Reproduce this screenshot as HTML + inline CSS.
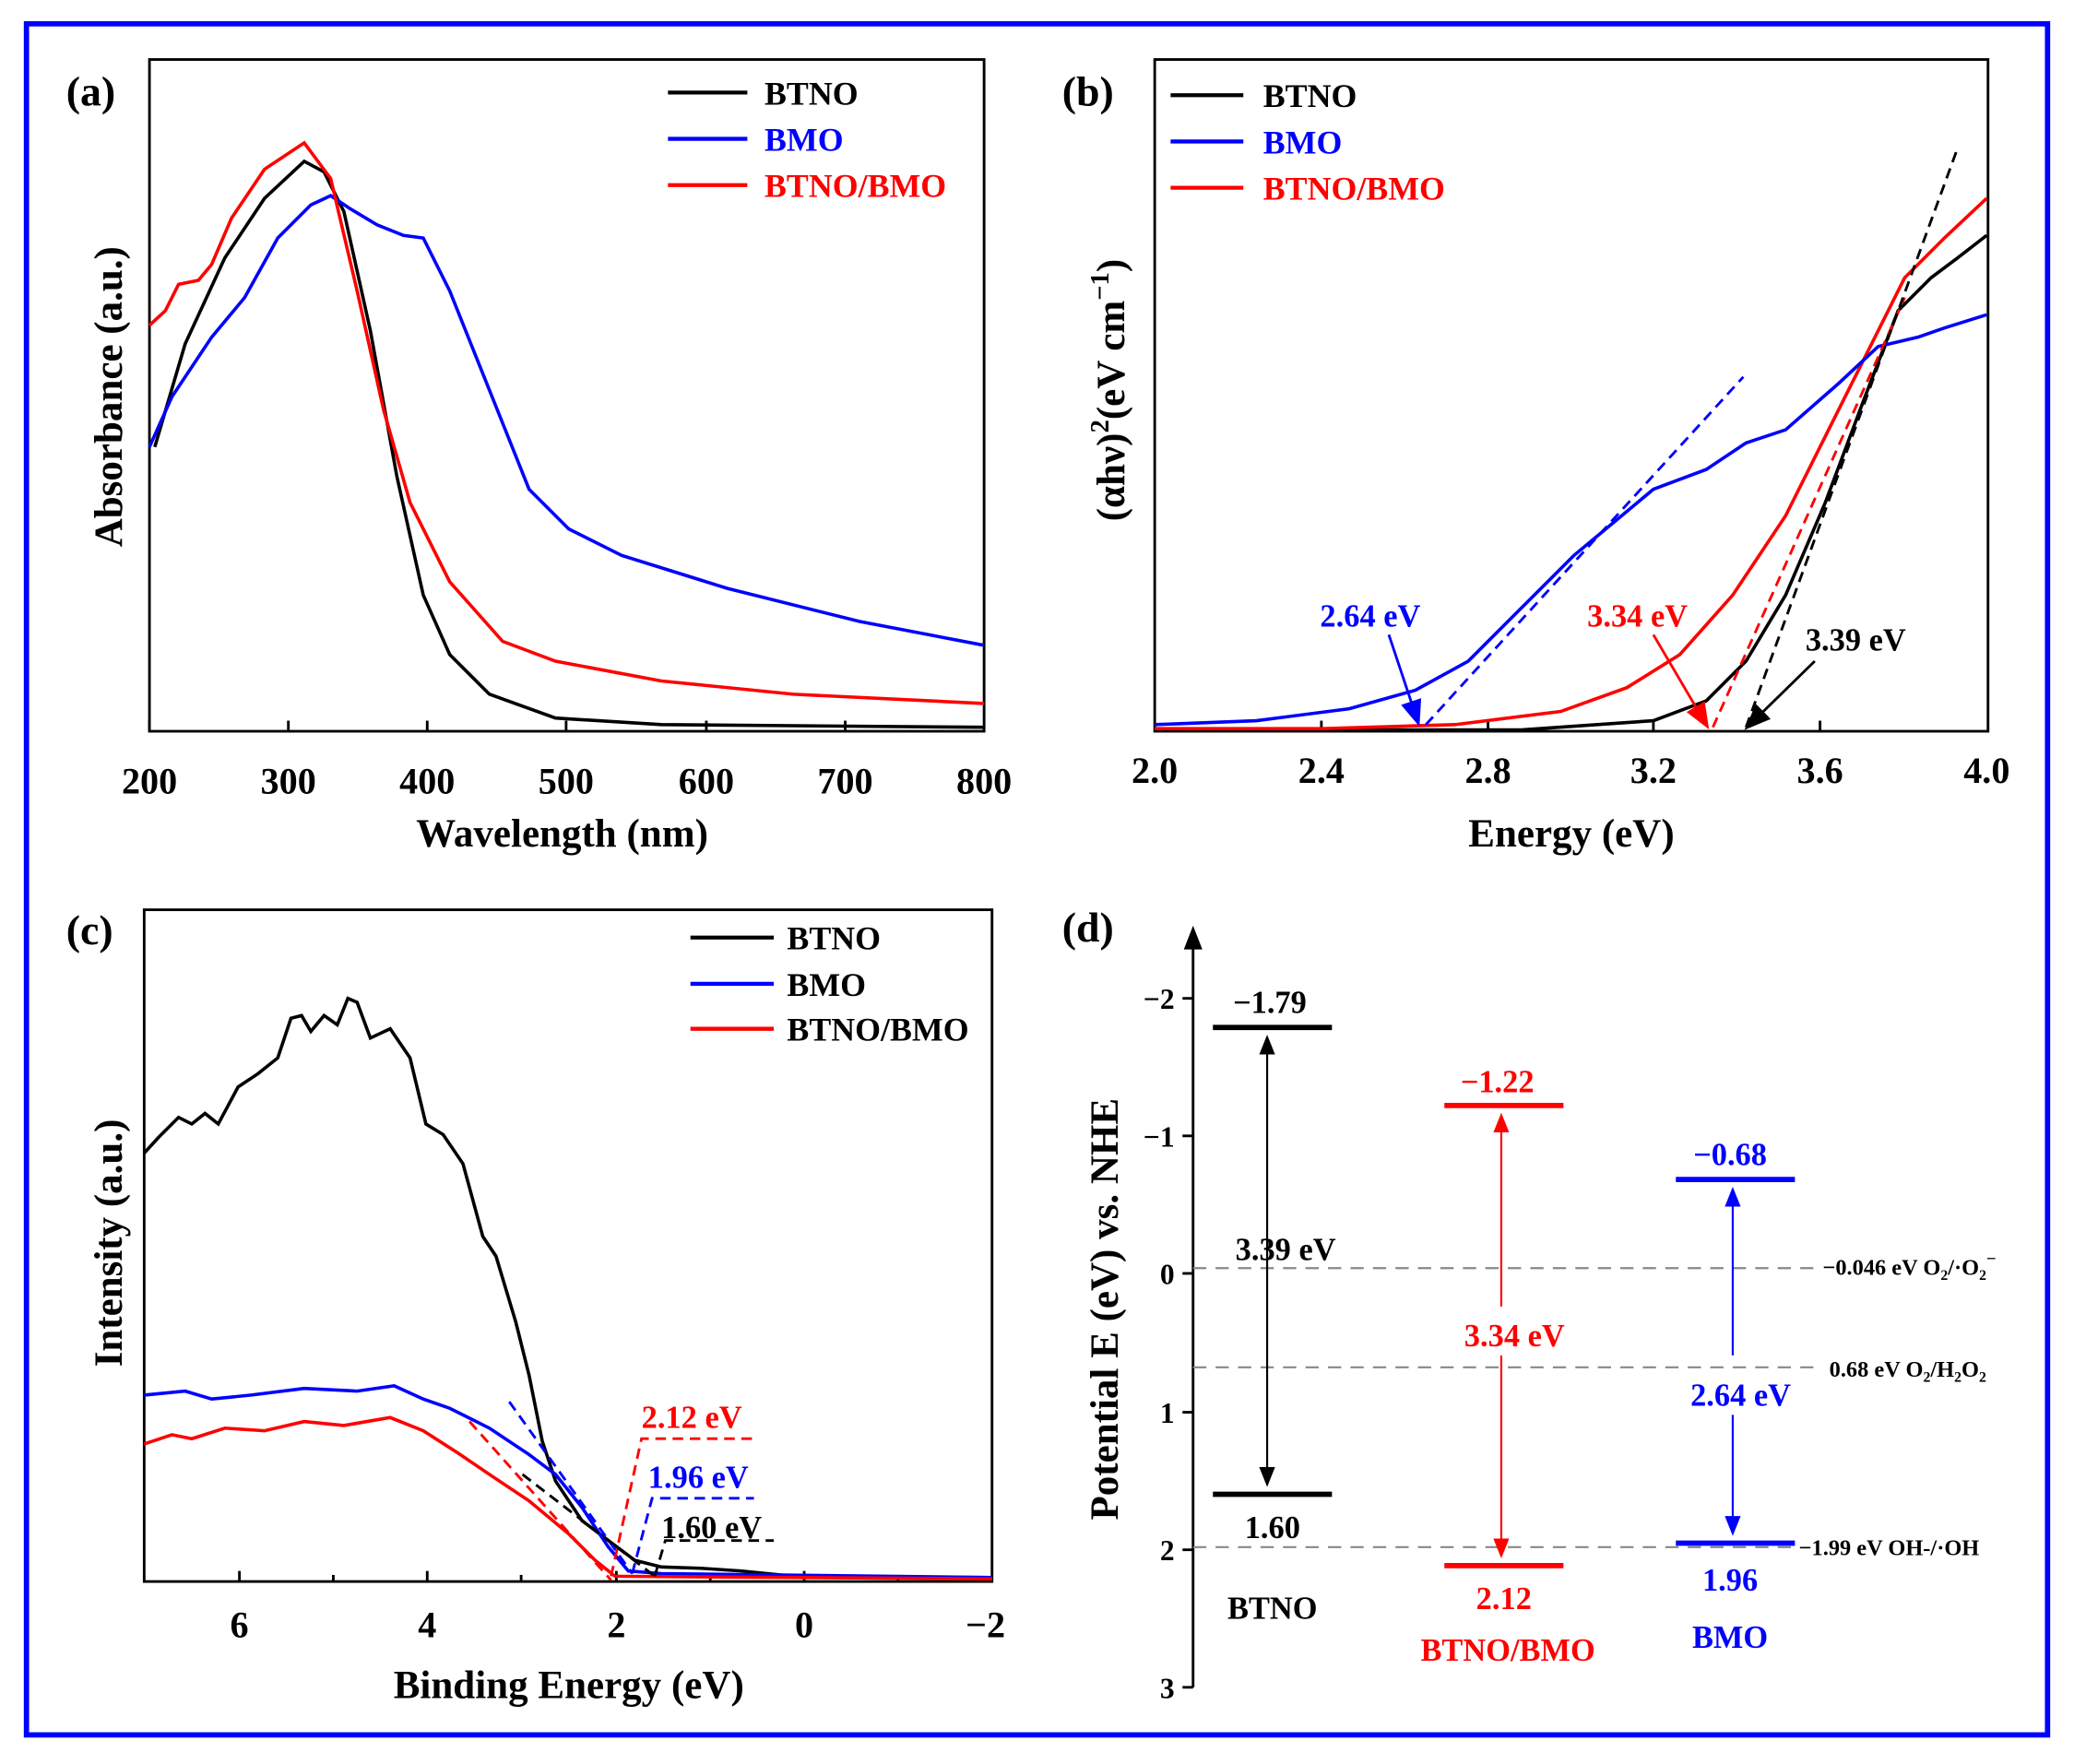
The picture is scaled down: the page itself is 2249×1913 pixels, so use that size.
<!DOCTYPE html>
<html><head><meta charset="utf-8"><style>
html,body{margin:0;padding:0;background:#fff}
svg{display:block}
text{font-family:"Liberation Serif",serif;font-weight:bold}
</style></head><body>
<svg width="2249" height="1913" viewBox="0 0 1568 1334" preserveAspectRatio="none" xmlns="http://www.w3.org/2000/svg">
<rect x="20" y="18" width="1528" height="1294" fill="none" stroke="#0000ff" stroke-width="4"/>
<defs>
<marker id="ak" markerWidth="10" markerHeight="10" refX="5" refY="5" orient="auto-start-reverse"><path d="M0,1 L10,5 L0,9 z" fill="#000"/></marker>
<marker id="ar" markerWidth="10" markerHeight="10" refX="5" refY="5" orient="auto-start-reverse"><path d="M0,1 L10,5 L0,9 z" fill="#f00"/></marker>
<marker id="ab" markerWidth="10" markerHeight="10" refX="5" refY="5" orient="auto-start-reverse"><path d="M0,1 L10,5 L0,9 z" fill="#00f"/></marker>
</defs>

<!-- Panel a -->
<rect x="113" y="45" width="631" height="508" fill="none" stroke="#000" stroke-width="2"/>
<g stroke="#000" stroke-width="2">
<line x1="113" y1="553" x2="113" y2="545"/><line x1="218" y1="553" x2="218" y2="545"/><line x1="323" y1="553" x2="323" y2="545"/><line x1="428" y1="553" x2="428" y2="545"/><line x1="534" y1="553" x2="534" y2="545"/><line x1="639" y1="553" x2="639" y2="545"/>
</g>
<g font-size="28" text-anchor="middle">
<text x="113" y="600">200</text><text x="218" y="600">300</text><text x="323" y="600">400</text><text x="428" y="600">500</text><text x="534" y="600">600</text><text x="639" y="600">700</text><text x="744" y="600">800</text>
</g>
<text x="425" y="640" font-size="30" text-anchor="middle">Wavelength (nm)</text>
<text transform="translate(92,300) rotate(-90)" font-size="30" text-anchor="middle">Absorbance (a.u.)</text>
<text x="50" y="80" font-size="32">(a)</text>
<polyline fill="none" stroke="#000" stroke-width="2.5" points="117,338 140,260 170,195 200,150 230,122 245,130 260,160 280,250 300,360 320,450 340,495 370,525 420,543 500,548 744,550"/>
<polyline fill="none" stroke="#00f" stroke-width="2.5" points="113,338 130,300 160,255 185,225 210,180 235,155 250,148 265,158 285,170 305,178 320,180 340,220 360,270 380,320 400,370 430,400 470,420 550,445 650,470 744,488"/>
<polyline fill="none" stroke="#f00" stroke-width="2.5" points="113,246 125,235 135,215 150,212 160,200 175,165 200,128 230,108 250,135 270,220 290,310 310,380 340,440 380,485 420,500 500,515 600,525 744,532"/>
<g stroke-width="3"><line x1="505" y1="70" x2="565" y2="70" stroke="#000"/><line x1="505" y1="105" x2="565" y2="105" stroke="#00f"/><line x1="505" y1="140" x2="565" y2="140" stroke="#f00"/></g>
<g font-size="25"><text x="578" y="79">BTNO</text><text x="578" y="114" fill="#00f">BMO</text><text x="578" y="149" fill="#f00">BTNO/BMO</text></g>

<!-- Panel b -->
<rect x="873" y="45" width="630" height="508" fill="none" stroke="#000" stroke-width="2"/>
<g stroke="#000" stroke-width="2">
<line x1="999" y1="553" x2="999" y2="545"/><line x1="1125" y1="553" x2="1125" y2="545"/><line x1="1250" y1="553" x2="1250" y2="545"/><line x1="1376" y1="553" x2="1376" y2="545"/>
</g>
<g font-size="28" text-anchor="middle">
<text x="873" y="592">2.0</text><text x="999" y="592">2.4</text><text x="1125" y="592">2.8</text><text x="1250" y="592">3.2</text><text x="1376" y="592">3.6</text><text x="1502" y="592">4.0</text>
</g>
<text x="1188" y="640" font-size="30" text-anchor="middle">Energy (eV)</text>
<text transform="translate(850,295) rotate(-90)" font-size="30" text-anchor="middle">(αhν)<tspan font-size="20" dy="-12">2</tspan><tspan dy="12">(eV cm</tspan><tspan font-size="20" dy="-12">−1</tspan><tspan dy="12">)</tspan></text>
<text x="803" y="80" font-size="32">(b)</text>
<polyline fill="none" stroke="#000" stroke-width="2.5" points="873,552 1150,552 1250,545 1290,530 1320,500 1350,450 1380,380 1410,300 1435,235 1460,210 1480,195 1502,178"/>
<polyline fill="none" stroke="#f00" stroke-width="2.5" points="873,551 1000,551 1100,548 1180,538 1230,520 1270,495 1310,450 1350,390 1380,330 1410,270 1440,210 1470,180 1502,150"/>
<polyline fill="none" stroke="#00f" stroke-width="2.5" points="873,548 950,545 1020,536 1070,522 1110,500 1150,460 1190,420 1220,395 1250,370 1290,355 1320,335 1350,325 1390,290 1420,262 1450,255 1470,248 1502,238"/>
<g stroke-width="2" stroke-dasharray="8,5" fill="none">
<line x1="1078" y1="548" x2="1318" y2="285" stroke="#00f"/>
<line x1="1295" y1="550" x2="1440" y2="225" stroke="#f00"/>
<line x1="1320" y1="550" x2="1480" y2="112" stroke="#000"/>
</g>
<line x1="1050" y1="480" x2="1070" y2="540" stroke="#00f" stroke-width="2" marker-end="url(#ab)"/>
<line x1="1250" y1="480" x2="1287" y2="543" stroke="#f00" stroke-width="2" marker-end="url(#ar)"/>
<line x1="1372" y1="500" x2="1326" y2="545" stroke="#000" stroke-width="2" marker-end="url(#ak)"/>
<g font-size="24"><text x="998" y="474" fill="#00f">2.64 eV</text><text x="1200" y="474" fill="#f00">3.34 eV</text><text x="1365" y="492">3.39 eV</text></g>
<g stroke-width="3"><line x1="885" y1="72" x2="940" y2="72" stroke="#000"/><line x1="885" y1="107" x2="940" y2="107" stroke="#00f"/><line x1="885" y1="142" x2="940" y2="142" stroke="#f00"/></g>
<g font-size="25"><text x="955" y="81">BTNO</text><text x="955" y="116" fill="#00f">BMO</text><text x="955" y="151" fill="#f00">BTNO/BMO</text></g>

<!-- Panel c -->
<rect x="109" y="688" width="641" height="508" fill="none" stroke="#000" stroke-width="2"/>
<g stroke="#000" stroke-width="2">
<line x1="181" y1="1196" x2="181" y2="1188"/><line x1="323" y1="1196" x2="323" y2="1188"/><line x1="466" y1="1196" x2="466" y2="1188"/><line x1="608" y1="1196" x2="608" y2="1188"/>
<line x1="252" y1="1196" x2="252" y2="1191"/><line x1="394" y1="1196" x2="394" y2="1191"/><line x1="537" y1="1196" x2="537" y2="1191"/><line x1="679" y1="1196" x2="679" y2="1191"/>
</g>
<g font-size="28" text-anchor="middle">
<text x="181" y="1238">6</text><text x="323" y="1238">4</text><text x="466" y="1238">2</text><text x="608" y="1238">0</text><text x="745" y="1238">−2</text>
</g>
<text x="430" y="1284" font-size="30" text-anchor="middle">Binding Energy (eV)</text>
<text transform="translate(92,940) rotate(-90)" font-size="30" text-anchor="middle">Intensity (a.u.)</text>
<text x="50" y="714" font-size="32">(c)</text>
<polyline fill="none" stroke="#000" stroke-width="2.5" points="109,872 120,860 135,845 145,850 155,842 165,850 180,822 195,812 210,800 220,770 228,768 235,780 245,768 255,775 263,755 270,758 280,785 295,778 310,800 322,850 335,858 350,880 365,935 375,950 390,1000 400,1040 410,1090 420,1120 440,1150 460,1165 480,1180 500,1185 530,1186 560,1188 600,1192 750,1193"/>
<polyline fill="none" stroke="#00f" stroke-width="2.5" points="109,1055 140,1052 160,1058 190,1055 230,1050 270,1052 298,1048 320,1058 340,1065 370,1080 400,1100 420,1115 440,1140 460,1170 475,1188 500,1190 750,1193"/>
<polyline fill="none" stroke="#f00" stroke-width="2.5" points="109,1092 130,1085 145,1088 170,1080 200,1082 230,1075 260,1078 295,1072 320,1082 345,1098 370,1115 400,1135 430,1160 450,1180 465,1192 750,1194"/>
<g stroke-width="2" stroke-dasharray="8,5" fill="none">
<line x1="355" y1="1075" x2="462" y2="1195" stroke="#f00"/>
<polyline points="462,1192 485,1088 573,1088" stroke="#f00"/>
<line x1="385" y1="1060" x2="478" y2="1190" stroke="#00f"/>
<polyline points="478,1190 493,1133 570,1133" stroke="#00f"/>
<line x1="395" y1="1115" x2="495" y2="1192" stroke="#000"/>
<polyline points="495,1192 503,1165 585,1165" stroke="#000"/>
</g>
<g font-size="24"><text x="485" y="1080" fill="#f00">2.12 eV</text><text x="490" y="1125" fill="#00f">1.96 eV</text><text x="500" y="1163">1.60 eV</text></g>
<g stroke-width="3"><line x1="522" y1="709" x2="585" y2="709" stroke="#000"/><line x1="522" y1="744" x2="585" y2="744" stroke="#00f"/><line x1="522" y1="778" x2="585" y2="778" stroke="#f00"/></g>
<g font-size="25"><text x="595" y="718">BTNO</text><text x="595" y="753">BMO</text><text x="595" y="787">BTNO/BMO</text></g>

<!-- Panel d -->
<text x="803" y="712" font-size="32">(d)</text>
<line x1="902" y1="1276" x2="902" y2="712" stroke="#000" stroke-width="2"/>
<path d="M895,718 L902,700 L909,718 z" fill="#000"/>
<g stroke="#000" stroke-width="2">
<line x1="894" y1="755" x2="902" y2="755"/><line x1="894" y1="859" x2="902" y2="859"/><line x1="894" y1="963" x2="902" y2="963"/><line x1="894" y1="1068" x2="902" y2="1068"/><line x1="894" y1="1172" x2="902" y2="1172"/><line x1="894" y1="1276" x2="902" y2="1276"/>
</g>
<g font-size="22" text-anchor="end">
<text x="888" y="763">−2</text><text x="888" y="867">−1</text><text x="888" y="971">0</text><text x="888" y="1076">1</text><text x="888" y="1180">2</text><text x="888" y="1284">3</text>
</g>
<text transform="translate(845,990) rotate(-90)" font-size="30" text-anchor="middle">Potential E (eV) vs. NHE</text>
<g stroke="#888" stroke-width="1.5" stroke-dasharray="10,7">
<line x1="902" y1="959" x2="1375" y2="959"/><line x1="902" y1="1034" x2="1375" y2="1034"/><line x1="902" y1="1170" x2="1360" y2="1170"/>
</g>
<!-- BTNO -->
<line x1="917" y1="777" x2="1007" y2="777" stroke="#000" stroke-width="4"/>
<line x1="917" y1="1130" x2="1007" y2="1130" stroke="#000" stroke-width="4"/>
<line x1="958" y1="790" x2="958" y2="1117" stroke="#000" stroke-width="1.5" marker-start="url(#ak)" marker-end="url(#ak)"/>
<!-- BTNO/BMO -->
<line x1="1092" y1="836" x2="1182" y2="836" stroke="#f00" stroke-width="4"/>
<line x1="1092" y1="1184" x2="1182" y2="1184" stroke="#f00" stroke-width="4"/>
<line x1="1135" y1="849" x2="1135" y2="988" stroke="#f00" stroke-width="1.5" marker-start="url(#ar)"/>
<line x1="1135" y1="1025" x2="1135" y2="1171" stroke="#f00" stroke-width="1.5" marker-end="url(#ar)"/>
<!-- BMO -->
<line x1="1267" y1="892" x2="1357" y2="892" stroke="#00f" stroke-width="4"/>
<line x1="1267" y1="1167" x2="1357" y2="1167" stroke="#00f" stroke-width="4"/>
<line x1="1310" y1="905" x2="1310" y2="1025" stroke="#00f" stroke-width="1.5" marker-start="url(#ab)"/>
<line x1="1310" y1="1070" x2="1310" y2="1154" stroke="#00f" stroke-width="1.5" marker-end="url(#ab)"/>
<g font-size="24" text-anchor="middle">
<text x="960" y="766">−1.79</text><text x="972" y="953">3.39 eV</text><text x="962" y="1163">1.60</text><text x="962" y="1224">BTNO</text>
<text x="1132" y="826" fill="#f00">−1.22</text><text x="1145" y="1018" fill="#f00">3.34 eV</text><text x="1137" y="1217" fill="#f00">2.12</text><text x="1140" y="1256" fill="#f00">BTNO/BMO</text>
<text x="1308" y="881" fill="#00f">−0.68</text><text x="1316" y="1063" fill="#00f">2.64 eV</text><text x="1308" y="1203" fill="#00f">1.96</text><text x="1308" y="1246" fill="#00f">BMO</text>
</g>
<g font-size="17">
<text x="1378" y="964">−0.046 eV O<tspan font-size="11" dy="4">2</tspan><tspan dy="-4">/·O</tspan><tspan font-size="11" dy="4">2</tspan><tspan font-size="13" dy="-12">−</tspan></text>
<text x="1383" y="1041">0.68 eV O<tspan font-size="11" dy="4">2</tspan><tspan dy="-4">/H</tspan><tspan font-size="11" dy="4">2</tspan><tspan dy="-4">O</tspan><tspan font-size="11" dy="4">2</tspan></text>
<text x="1360" y="1176">−1.99 eV OH-/·OH</text>
</g>
</svg>
</body></html>
